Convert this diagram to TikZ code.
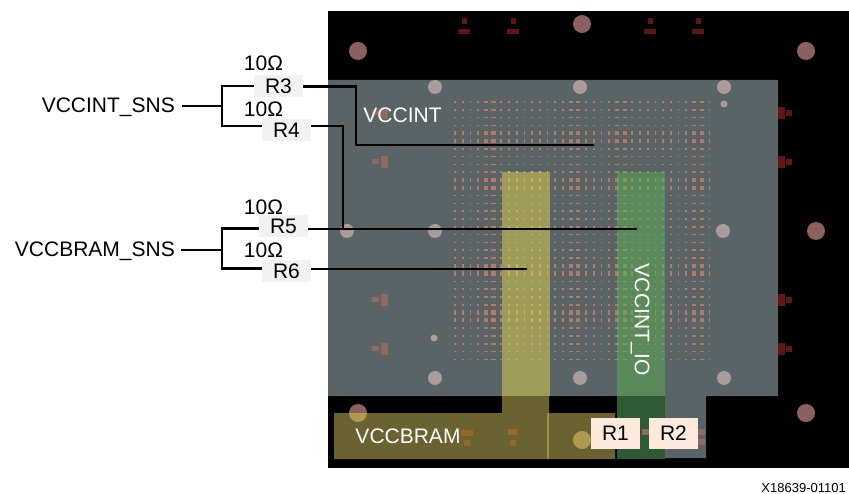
\documentclass[tikz,border=0pt]{standalone}
\usepackage{fontspec}
\setmainfont{Liberation Sans}
\definecolor{plane}{HTML}{5A6466}
\definecolor{viain}{HTML}{A89C9C}
\definecolor{viaout}{HTML}{8A6060}
\definecolor{padin}{HTML}{8D6A64}
\definecolor{padout}{HTML}{5E1616}
\definecolor{bram}{HTML}{6B6232}
\definecolor{bramhi}{HTML}{9E9C5A}
\definecolor{brampad}{HTML}{94682A}
\definecolor{bramvia}{HTML}{B09A50}
\definecolor{iohi}{HTML}{5A8A5C}
\definecolor{iolo}{HTML}{2F5A33}
\definecolor{ballbase}{HTML}{B57A68}
\definecolor{ballyel}{HTML}{CDB04E}
\definecolor{ballgrn}{HTML}{80985A}
\definecolor{rlight}{HTML}{FDEADC}
\tikzset{
  rbox/.style={fill=black!5,minimum width=49pt,minimum height=22pt,inner sep=0pt},
  rtall/.style={fill=rlight,minimum width=49pt,minimum height=31pt,inner sep=0pt},
  wire/.style={line width=2.4pt,line join=miter},
  lbl/.style={text=white,inner sep=0pt}
}
\newcommand\ballgrid[1]{
  \foreach \c [evaluate=\c as \w using {(\c==4||\c==5||\c==15||\c==16||\c==21||\c==22||\c==31||\c==32)?2.1:.85}] in {0,...,33} {
    \foreach \r [evaluate=\r as \h using {(\r==4||\r==5||\r==10||\r==11||\r==21||\r==22||\r==27||\r==28)?2.1:.85}] in {0,...,33} {
      \fill[#1] ({455+7.71*\c-\w},{102+7.8*\r-\h}) rectangle ({455+7.71*\c+\w},{102+7.8*\r+\h});
    }
  }
}
\begin{document}
\begin{tikzpicture}[x=1pt,y=-1pt,font=\fontsize{21}{25}\selectfont]
  \useasboundingbox (0,0) rectangle (849,494);
  % package and planes
  \fill[black] (328,11) rectangle (849,468);
  \fill[plane] (328,80) -- (778,80) -- (778,396) -- (706,396) -- (706,458) -- (660,458) -- (660,396) -- (328,396) -- cycle;
  \foreach \x\y in {358/51, 582/24, 806/51, 816/231, 806/413, 358/413} {
    \fill[viaout] (\x,\y) circle (9);
  }
  \foreach \x\y in {464/21, 513/21, 650/21, 698/21} {
    \fill[padout] (\x-2.5,\y-3) rectangle (\x+2.5,\y+3);
    \fill[padout] (\x-6,\y+8) rectangle (\x+6,\y+13);
  }
  \foreach \y in {113, 162, 300, 349} {
    \fill[padout] (778,\y-6) rectangle (785,\y+6);
    \fill[padout] (786,\y-3) rectangle (792,\y+3);
    \fill[padin] (381,\y-6) rectangle (388,\y+6);
    \fill[padin] (372,\y-2.5) rectangle (379,\y+2.5);
  }
  \foreach \x\y in {435/87, 580/87, 724/87, 347/231, 435/231, 723/231, 435/378, 580/378, 724/378} {
    \fill[viain] (\x,\y) circle (7);
  }
  \foreach \x\y in {434/338, 724/104} {
    \fill[viain] (\x,\y) circle (3.5);
  }
  \ballgrid{ballbase}
  % rails
  \fill[bramhi] (502,172) rectangle (550,396);
  \fill[iohi] (617,172) rectangle (665,396);
  \begin{scope}
    \clip (502,172) rectangle (550,396);
    \ballgrid{ballyel}
  \end{scope}
  \begin{scope}
    \clip (617,172) rectangle (665,396);
    \ballgrid{ballgrn}
  \end{scope}
  \fill[bram] (502,396) -- (549,396) -- (549,413) -- (615,413) -- (615,459) -- (334,459) -- (334,413) -- (502,413) -- cycle;
  \fill[iolo] (617,396) rectangle (665,459);
  \fill[bramvia!80!bram] (547,413) rectangle (549,459);
  \begin{scope}
    \clip (334,413) rectangle (615,459);
    \fill[bramvia] (358,413) circle (9);
  \end{scope}
  \fill[bramvia] (582,440) circle (9);
  \foreach \x\y\w in {467/433/6, 467/443/3, 513/432/5, 513/443/3} {
    \fill[brampad] (\x-\w,\y-3) rectangle (\x+\w,\y+3);
  }
  \foreach \x\y in {647/432, 700/432, 700/442} {
    \fill[padin] (\x-5,\y-3) rectangle (\x+5,\y+3);
  }
  \node[lbl] (vccint) at (402.5,115) {VCCINT};
  \node[lbl] (vccbram) at (408,436) {VCCBRAM};
  \node[lbl,rotate=-90] (vccintio) at (640,320) {VCCINT\_IO};
  \node[rtall] (R1) at (615.5,433.5) {R1};
  \node[rtall] (R2) at (673.5,433.5) {R2};
  % sense network
  \node[anchor=east,inner xsep=7pt,inner ysep=0pt] (intsns) at (182,107) {VCCINT\_SNS};
  \node[anchor=east,inner xsep=6pt,inner ysep=0pt] (bramsns) at (181,251) {VCCBRAM\_SNS};
  \node[rbox] (R3) at (278.5,86) {R3};
  \node[rbox] (R4) at (286.5,130) {R4};
  \node[rbox] (R5) at (283.5,226) {R5};
  \node[rbox] (R6) at (286.5,271) {R6};
  \foreach \y\n in {63/a, 109/b, 207/c, 250/d} {
    \node[inner sep=0pt] (ohm\n) at (263.5,\y) {10\char"03A9};
  }
  \coordinate (intj) at (222,106);
  \coordinate (bramj) at (222,250);
  \coordinate (intend) at (594,145);
  \coordinate (ioend) at (637,229);
  \coordinate (bramend) at (527,269);
  \draw[wire] (intj -| intsns.east) -- (intj);
  \draw[wire] (bramj -| bramsns.east) -- (bramj);
  \draw[wire] (R3.west) -| (intj) |- ([yshift=4pt]R4.west);
  \draw[wire] ([yshift=-2.5pt]R5.west) -| (bramj) |- ([yshift=2.5pt]R6.west);
  \draw[wire] ([yshift=-.5pt]R3.east) -- (356,86.5) |- (intend);
  \draw[wire] ([yshift=4pt]R4.east) -- (343,126) |- (ioend);
  \draw[wire] ([yshift=-3pt]R5.east) -- (ioend);
  \draw[wire] ([yshift=2pt]R6.east) -- (bramend);
  \node[anchor=east,inner sep=0pt,font=\fontsize{13}{15}\selectfont] (partno) at (846,488) {X18639-01101};
\end{tikzpicture}
\end{document}
